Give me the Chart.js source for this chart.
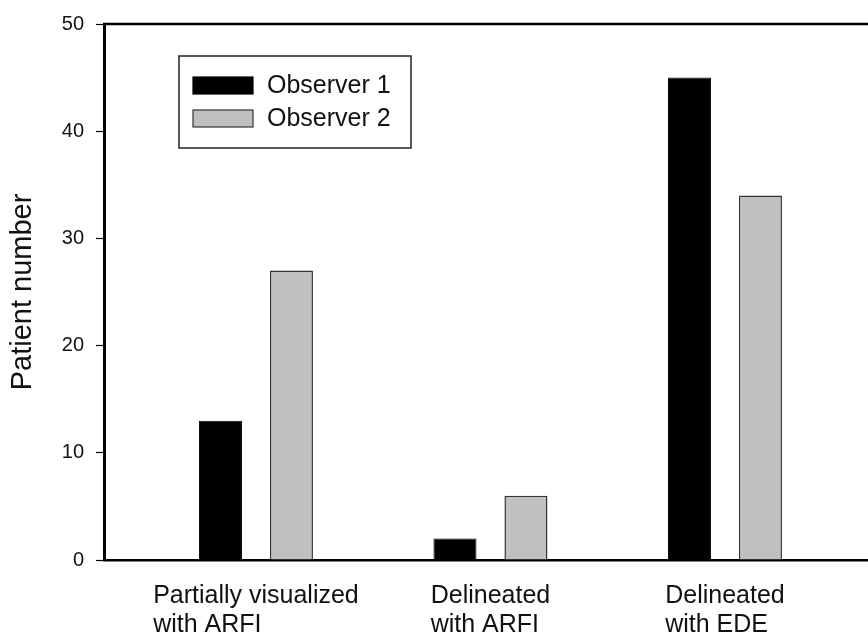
<!DOCTYPE html>
<html>
<head>
<meta charset="utf-8">
<script src="https://cdn.jsdelivr.net/npm/chart.js@4"></script>
<style>
  body { margin: 0; background: #fff; }
  canvas { display: block; }
</style>
</head>
<body>
<canvas id="patientChart" width="868" height="637"></canvas>
<script>
const categories = [
  ["Partially visualized", "with ARFI"],
  ["Delineated", "with ARFI"],
  ["Delineated", "with EDE"],
];
const observer1 = [13, 2, 45];
const observer2 = [27, 6, 34];
const yTicks = [0, 10, 20, 30, 40, 50];

const FONT = "'Liberation Sans', Arial, sans-serif";
const ctx = document.getElementById("patientChart");

// category labels: each block centred under its group, lines left aligned
const xLabels = {
  id: "xLabels",
  afterDraw(chart) {
    const c = chart.ctx;
    const x = chart.scales.x;
    const bottom = chart.chartArea.bottom;
    c.save();
    c.font = "25px " + FONT;
    c.fillStyle = "#111";
    c.textAlign = "left";
    c.textBaseline = "alphabetic";
    categories.forEach(function (lines, i) {
      let w = 0;
      lines.forEach(function (l) { w = Math.max(w, c.measureText(l).width); });
      const start = x.getPixelForValue(i + 1) - w / 2;
      lines.forEach(function (l, j) {
        c.fillText(l, start, bottom + 43 + j * 29);
      });
    });
    c.restore();
  },
};

// top frame line + boxed legend inside the plot
const frameAndLegend = {
  id: "frameAndLegend",
  afterDraw(chart) {
    const c = chart.ctx;
    const a = chart.chartArea;
    c.save();
    c.strokeStyle = "#000";
    c.lineWidth = 2.5;
    c.beginPath();
    c.moveTo(a.left - 1, a.top);
    c.lineTo(chart.width, a.top);
    c.stroke();

    const bx = a.left + 75, by = a.top + 32;
    c.lineWidth = 1.5;
    c.strokeStyle = "#222";
    c.strokeRect(bx, by, 232, 92);
    c.font = "25px " + FONT;
    c.textBaseline = "middle";
    c.textAlign = "left";
    chart.data.datasets.forEach(function (ds, i) {
      const sy = by + 21 + i * 33;
      c.fillStyle = ds.backgroundColor;
      c.fillRect(bx + 14, sy, 60, 17);
      c.lineWidth = 1.2;
      c.strokeStyle = ds.borderColor;
      c.strokeRect(bx + 14, sy, 60, 17);
      c.fillStyle = "#111";
      c.fillText(ds.label, bx + 88, sy + 9);
    });
    c.restore();
  },
};

new Chart(ctx, {
  type: "bar",
  data: {
    datasets: [
      {
        label: "Observer 1",
        data: observer1.map(function (v, i) { return { x: i + 1, y: v }; }),
        backgroundColor: "#000000",
        borderColor: "#000000",
        borderWidth: 1,
        categoryPercentage: 0.6055,
        barPercentage: 0.606,
      },
      {
        label: "Observer 2",
        data: observer2.map(function (v, i) { return { x: i + 1, y: v }; }),
        backgroundColor: "#c0c0c0",
        borderColor: "#333333",
        borderWidth: 1.5,
        categoryPercentage: 0.6055,
        barPercentage: 0.606,
      },
    ],
  },
  options: {
    responsive: false,
    animation: false,
    layout: { padding: { top: 20, right: 0, left: 0, bottom: 0 } },
    plugins: {
      legend: { display: false },
      tooltip: { enabled: false },
    },
    scales: {
      x: {
        type: "linear",
        offset: false,
        min: 0.352,
        max: 3.61,
        afterBuildTicks: function (s) {
          s.ticks = categories.map(function (_, i) { return { value: i + 1 }; });
        },
        grid: { display: false },
        border: { display: true, color: "#000", width: 2.5 },
        ticks: { display: false },
        afterFit: function (s) { s.height = 77; },
      },
      y: {
        min: 0,
        max: 50,
        afterBuildTicks: function (s) {
          s.ticks = yTicks.map(function (v) { return { value: v }; });
        },
        grid: {
          display: true,
          drawOnChartArea: false,
          drawTicks: true,
          tickLength: 8,
          tickColor: "#000",
          tickWidth: 1.2,
        },
        border: { display: true, color: "#000", width: 3 },
        ticks: {
          padding: 12,
          color: "#111",
          font: { family: FONT, size: 20 },
        },
        title: {
          display: true,
          text: "Patient number",
          color: "#111",
          font: { family: FONT, size: 29 },
          padding: { top: 6, bottom: 0 },
        },
        afterFit: function (s) { s.width = 104; },
      },
    },
  },
  plugins: [xLabels, frameAndLegend],
});
</script>
</body>
</html>
